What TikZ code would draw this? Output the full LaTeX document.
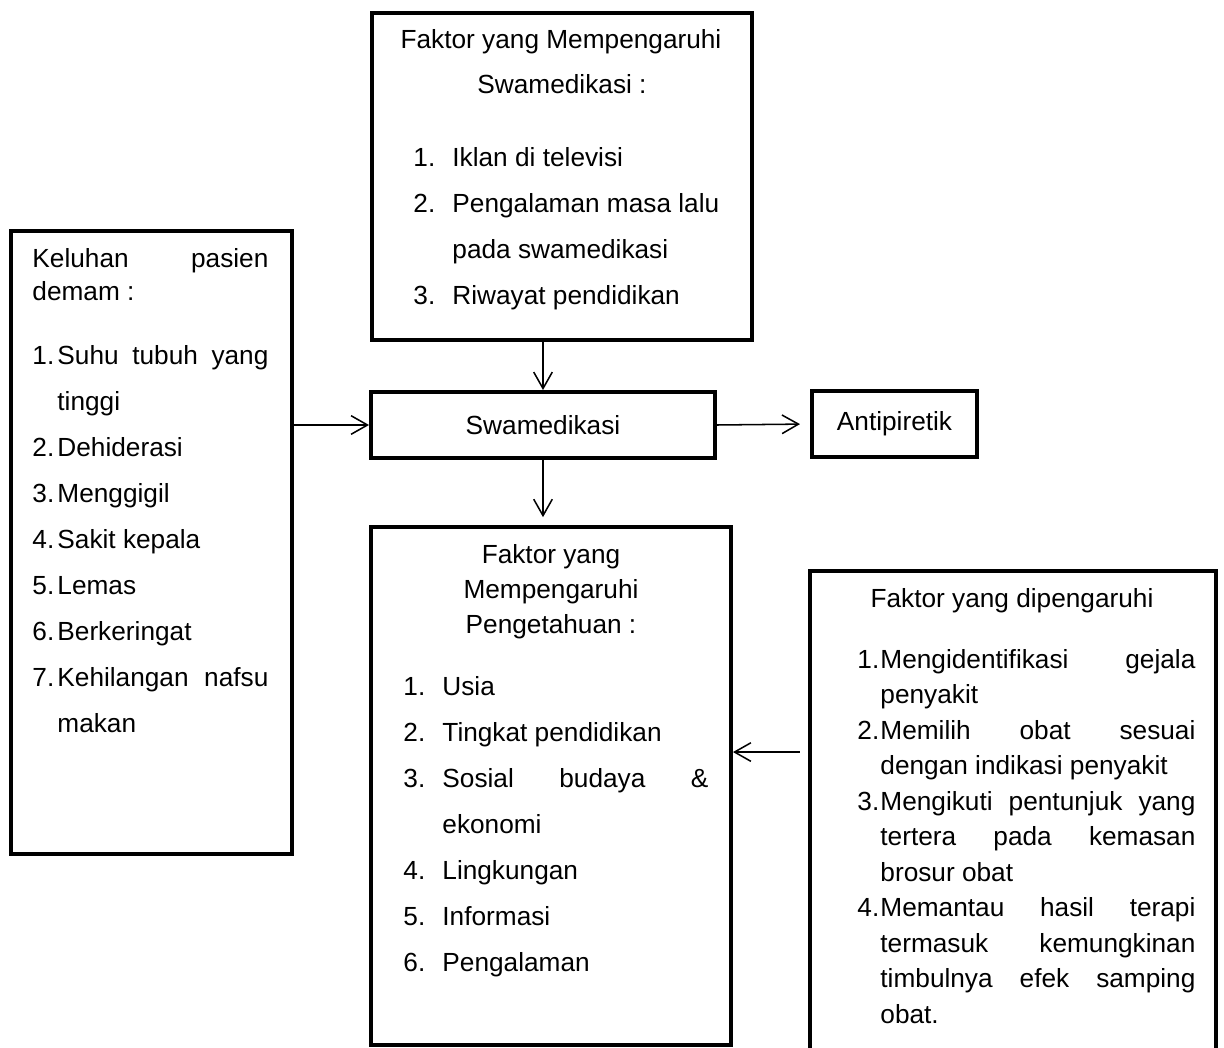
\documentclass[tikz,border=0pt]{standalone}
\usepackage{fontspec}
\setmainfont{Liberation Sans}
\usetikzlibrary{arrows.meta}
\newlength{\px}
\setlength{\px}{0.4575pt}
\tikzset{
	kotak/.style={draw, rectangle, line width=1.8pt, inner sep=0pt},
	txt/.style={anchor=base west, inner sep=0pt},
	ctxt/.style={anchor=base, inner sep=0pt},
	panah/.style={-{Straight Barb[length=7.5pt,width=8.5pt]}, line width=0.7pt}
}

\begin{document}
\begin{tikzpicture}[x=0.4575pt, y=-0.4575pt, font=\fontsize{12pt}{14pt}\selectfont]
			\useasboundingbox (0,0) rectangle (1224,1048);
			\node[kotak, minimum width=380\px, minimum height=327\px] (faktorswa) at (562,176.5) {};
			\node[kotak, minimum width=344\px, minimum height=66\px] (swa) at (543,425) {Swamedikasi};
			\node[kotak, minimum width=165\px, minimum height=66\px] (antipiretik) at (894.5,424) {Antipiretik};
			\node[kotak, minimum width=281\px, minimum height=623\px] (keluhan) at (151.5,542.5) {};
			\node[kotak, minimum width=360\px, minimum height=518\px] (faktorpeng) at (551,786) {};
			\node[kotak, minimum width=406\px, minimum height=481\px] (faktordip) at (1013,811.5) {};
			\node[ctxt] (fs1) at (561,49) {Faktor yang Mempengaruhi};
			\node[ctxt] (fs2) at (562,94) {Swamedikasi :};
			\node[txt] (fs3) at (413,167) {\makebox[39\px][l]{1.}Iklan di televisi};
			\node[txt] (fs4) at (413,213) {\makebox[39\px][l]{2.}Pengalaman masa lalu};
			\node[txt] (fs5) at (452,259) {pada swamedikasi};
			\node[txt] (fs6) at (413,305) {\makebox[39\px][l]{3.}Riwayat pendidikan};
			\node[txt] (kl1) at (32,268) {\makebox[236\px][s]{Keluhan pasien}};
			\node[txt] (kl2) at (32,301) {demam :};
			\node[txt] (kl3) at (32,364) {\makebox[25\px][l]{1.}\makebox[211\px][s]{Suhu tubuh yang}};
			\node[txt] (kl4) at (57,410) {tinggi};
			\node[txt] (kl5) at (32,456) {\makebox[25\px][l]{2.}Dehiderasi};
			\node[txt] (kl6) at (32,502) {\makebox[25\px][l]{3.}Menggigil};
			\node[txt] (kl7) at (32,548) {\makebox[25\px][l]{4.}Sakit kepala};
			\node[txt] (kl8) at (32,594) {\makebox[25\px][l]{5.}Lemas};
			\node[txt] (kl9) at (32,640) {\makebox[25\px][l]{6.}Berkeringat};
			\node[txt] (kl10) at (32,686) {\makebox[25\px][l]{7.}\makebox[211\px][s]{Kehilangan nafsu}};
			\node[txt] (kl11) at (57,732) {makan};
			\node[ctxt] (fp1) at (551,563) {Faktor yang};
			\node[ctxt] (fp2) at (551,598) {Mempengaruhi};
			\node[ctxt] (fp3) at (551,633) {Pengetahuan :};
			\node[txt] (fp4) at (403,695) {\makebox[39\px][l]{1.}Usia};
			\node[txt] (fp5) at (403,741) {\makebox[39\px][l]{2.}Tingkat pendidikan};
			\node[txt] (fp6) at (403,787) {\makebox[39\px][l]{3.}\makebox[266\px][s]{Sosial budaya \&}};
			\node[txt] (fp7) at (442,833) {ekonomi};
			\node[txt] (fp8) at (403,879) {\makebox[39\px][l]{4.}Lingkungan};
			\node[txt] (fp9) at (403,925) {\makebox[39\px][l]{5.}Informasi};
			\node[txt] (fp10) at (403,971) {\makebox[39\px][l]{6.}Pengalaman};
			\node[ctxt] (fd1) at (1012,607) {Faktor yang dipengaruhi};
			\node[txt] (fd2) at (857,668) {\makebox[23\px][l]{1.}\makebox[315\px][s]{Mengidentifikasi gejala}};
			\node[txt] (fd3) at (880,703.5) {penyakit};
			\node[txt] (fd4) at (857,739) {\makebox[23\px][l]{2.}\makebox[315\px][s]{Memilih obat sesuai}};
			\node[txt] (fd5) at (880,774.5) {dengan indikasi penyakit};
			\node[txt] (fd6) at (857,810) {\makebox[23\px][l]{3.}\makebox[315\px][s]{Mengikuti pentunjuk yang}};
			\node[txt] (fd7) at (880,845.5) {\makebox[315\px][s]{tertera pada kemasan}};
			\node[txt] (fd8) at (880,881) {brosur obat};
			\node[txt] (fd9) at (857,916.5) {\makebox[23\px][l]{4.}\makebox[315\px][s]{Memantau hasil terapi}};
			\node[txt] (fd10) at (880,952) {\makebox[315\px][s]{termasuk kemungkinan}};
			\node[txt] (fd11) at (880,987.5) {\makebox[315\px][s]{timbulnya efek samping}};
			\node[txt] (fd12) at (880,1023) {obat.};
			\draw[panah] (faktorswa.south -| swa.north) -- (swa.north);
			\draw[panah] (keluhan.east |- swa.west) -- (swa.west);
			\draw[panah, shorten >=4.6pt] (swa.east) -- (antipiretik.west);
			\draw[panah, shorten >=3.6pt] (swa.south) -- (faktorpeng.north -| swa.south);
			\draw[panah, shorten <=3.7pt] ([yshift=27.2pt]faktordip.west) -- ([yshift=27.2pt]faktordip.west -| faktorpeng.east);
\end{tikzpicture}
\end{document}
